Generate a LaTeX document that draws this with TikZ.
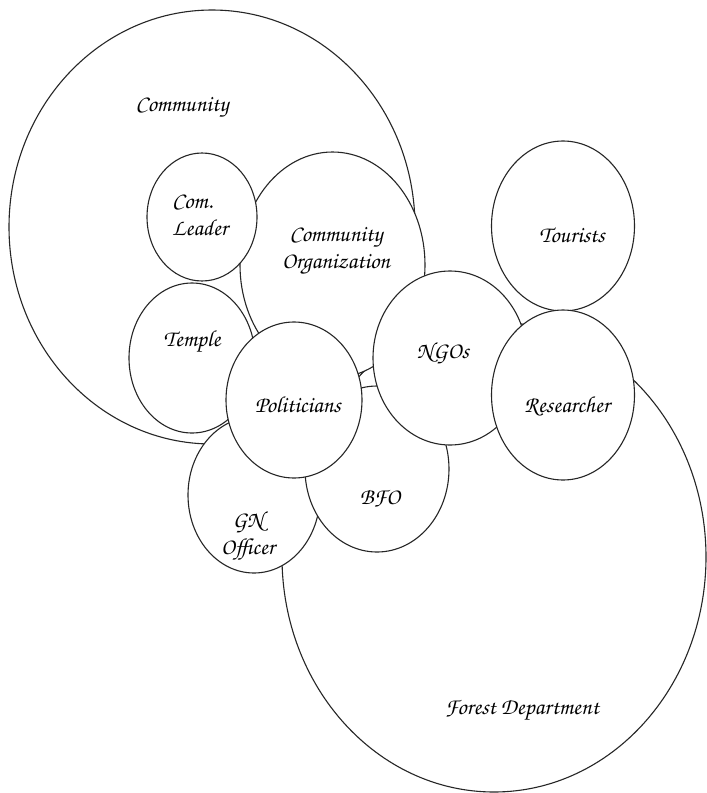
\documentclass[tikz,border=0pt]{standalone}
\usepackage{fontspec}
\newfontfamily\handfont{texgyrechorus-mediumitalic.otf}
\begin{document}
\begin{tikzpicture}[x=1pt,y=-1pt,
  region/.style={draw=black!85,line width=1.1pt,fill=white},
  lbl/.style={font=\handfont\fontsize{23}{27}\selectfont,text=black,align=center,inner sep=0pt}]
\fill[white] (0,0) rectangle (707,793);
\useasboundingbox (0,0) rectangle (707,793);
% regions, bottom to top
\draw[region] (494,557) ellipse [x radius=212,y radius=235];
\draw[region] (212,227) ellipse [x radius=203,y radius=217];
\draw[region] (332.5,265) ellipse [x radius=92.5,y radius=113];
\draw[region] (202,217) ellipse [x radius=55,y radius=64];
\draw[region] (192,358) ellipse [x radius=63,y radius=75];
\draw[region] (563,226) ellipse [x radius=71.5,y radius=85];
\draw[region] (254,495) ellipse [x radius=66,y radius=78];
\draw[region] (377,469) ellipse [x radius=72,y radius=83];
\draw[region] (450,358) ellipse [x radius=77,y radius=87];
\draw[region] (563,395) ellipse [x radius=71.5,y radius=85];
\draw[region] (294,400) ellipse [x radius=68,y radius=78];
% labels
\node[lbl] (community) at (182,107) {Community};
\node[lbl,align=left] (comleader) at (200,215) {Com.\\Leader};
\node[lbl] (comorg) at (336,251) {Community\\Organization};
\node[lbl] (temple) at (192,342) {Temple};
\node[lbl] (politicians) at (298,405) {Politicians};
\node[lbl] (ngos) at (443,353) {NGOs};
\node[lbl] (bfo) at (380,499) {BFO};
\node[lbl] (gnofficer) at (248,536) {GN\\Officer};
\node[lbl] (tourists) at (572,235) {Tourists};
\node[lbl] (researcher) at (567,406) {Researcher};
\node[lbl] (forest) at (522,710) {Forest Department};
\end{tikzpicture}
\end{document}
